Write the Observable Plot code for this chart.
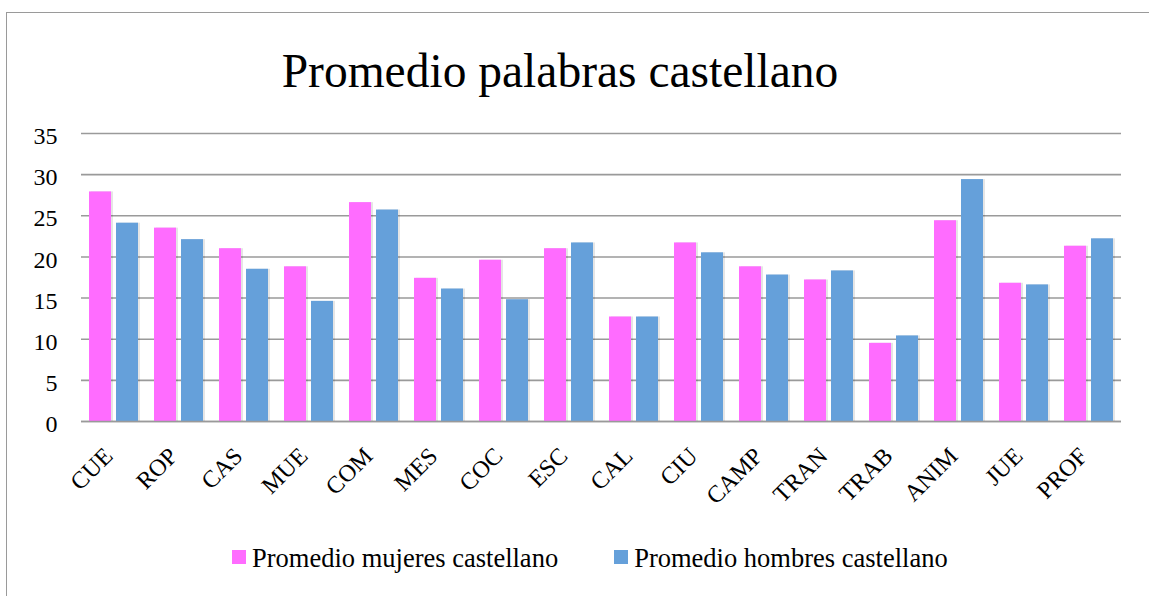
<!DOCTYPE html>
<html>
<head>
<meta charset="utf-8">
<script src="https://cdn.jsdelivr.net/npm/d3@7"></script>
<script src="https://cdn.jsdelivr.net/npm/@observablehq/plot@0.6"></script>
<style>
  html, body { margin: 0; padding: 0; background: #fff; }
  #page { position: relative; width: 1149px; height: 596px; overflow: hidden; background: #fff; font-family: "Liberation Serif", "DejaVu Serif", serif; }
  #frame { position: absolute; left: 6px; top: 12px; width: 1300px; height: 800px; border-left: 1.5px solid #9a9a9a; border-top: 1.5px solid #9a9a9a; }
  #title { position: absolute; left: 0; top: 48px; width: 1120px; text-align: center; font-size: 47.5px; color: #000; line-height: 1; }
  #chart { position: absolute; left: 0; top: 0; }
  #chart svg text { font-family: "Liberation Serif", serif !important; }
  #legend { position: absolute; top: 543px; left: 232px; font-size: 26.5px; color: #000; display: flex; align-items: center; white-space: nowrap; }
  .item { display: flex; align-items: center; }
  .sw { width: 14px; height: 14px; margin-right: 6px; margin-top: -4px; }
</style>
</head>
<body>
<div id="page">
  <div id="frame"></div>
  <div id="title">Promedio palabras castellano</div>
  <div id="chart"></div>
  <div id="legend"></div>
</div>
<script>
const categories = ["CUE","ROP","CAS","MUE","COM","MES","COC","ESC","CAL","CIU","CAMP","TRAN","TRAB","ANIM","JUE","PROF"];
const mujeres = [27.9, 23.5, 21.0, 18.8, 26.6, 17.4, 19.6, 21.0, 12.7, 21.7, 18.8, 17.2, 9.5, 24.4, 16.8, 21.3];
const hombres = [24.1, 22.1, 18.5, 14.6, 25.7, 16.1, 14.8, 21.7, 12.7, 20.5, 17.8, 18.3, 10.4, 29.4, 16.6, 22.2];
const seriesNames = ["Promedio mujeres castellano", "Promedio hombres castellano"];
const seriesColors = ["#ff6cff", "#65a0da"];
const yTicks = [0, 5, 10, 15, 20, 25, 30, 35];

const data = [];
categories.forEach((c, i) => {
  data.push({cat: c, serie: seriesNames[0], value: mujeres[i]});
  data.push({cat: c, serie: seriesNames[1], value: hombres[i]});
});

const chart = Plot.plot({
  width: 1149,
  height: 520,
  marginLeft: 76,
  marginRight: 23,
  marginTop: 133,
  marginBottom: 99,
  style: {fontFamily: "Liberation Serif, serif", fontSize: "24px", color: "#000", background: "transparent"},
  fx: {domain: categories, padding: 0, axis: null},
  x: {domain: seriesNames, paddingInner: 0.2, paddingOuter: 0.29, axis: null},
  y: {domain: [0, 35], axis: null},
  color: {domain: seriesNames, range: seriesColors},
  marks: [
    Plot.ruleY(yTicks, {stroke: "#9a9a9a", strokeWidth: 1.6}),
    Plot.text(yTicks, {fx: () => categories[0], y: d => d, text: d => String(d), frameAnchor: "left", textAnchor: "end", dx: -24, dy: 3, fontSize: 24, fill: "#000"}),
    Plot.barY(data, {fx: "cat", x: "serie", y: "value", fill: "#000", fillOpacity: 0.1, dx: 2, dy: 0}),
    Plot.barY(data, {fx: "cat", x: "serie", y: "value", fill: "serie"}),
    Plot.ruleY([0], {stroke: "#9a9a9a", strokeWidth: 1.6}),
    Plot.text(categories, {fx: d => d, text: d => d, frameAnchor: "bottom", rotate: -45, textAnchor: "end", dx: 0, dy: 36, fontSize: 24, fill: "#000"})
  ]
});
document.getElementById("chart").appendChild(chart);

const legend = document.getElementById("legend");
seriesNames.forEach((name, i) => {
  const item = document.createElement("div");
  item.className = "item";
  if (i > 0) item.style.marginLeft = "56px";
  const sw = document.createElement("div");
  sw.className = "sw";
  sw.style.background = seriesColors[i];
  const t = document.createElement("span");
  t.textContent = name;
  item.appendChild(sw);
  item.appendChild(t);
  legend.appendChild(item);
});
</script>
</body>
</html>
